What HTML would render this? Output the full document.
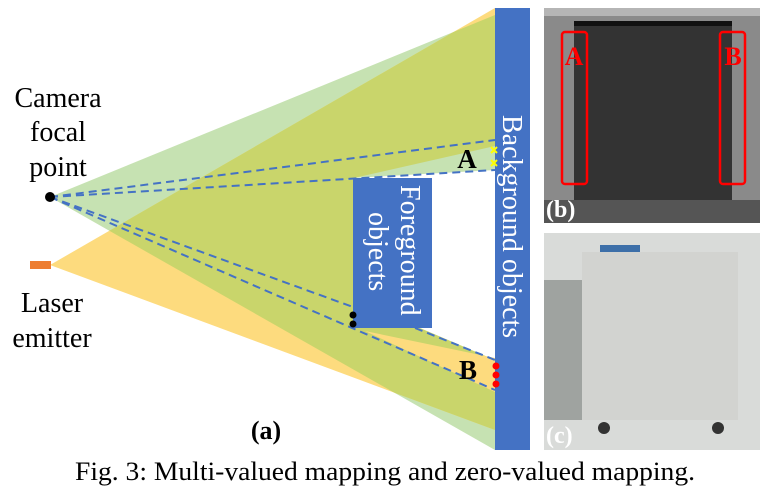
<!DOCTYPE html>
<html><head><meta charset="utf-8"><style>
html,body{margin:0;padding:0;background:#fff;}
svg{display:block;font-family:"Liberation Serif",serif;}
</style></head><body>
<svg width="771" height="493" viewBox="0 0 771 493">
<defs>
<clipPath id="gc"><polygon points="50,197 495,15 495,450"/></clipPath>
</defs>
<g>
<polygon points="50,197 495,15 495,450" fill="#c6e2b2"/>
<polygon points="50,265 495,8 495,430" fill="#fddb7e"/>
<polygon points="50,265 495,8 495,430" fill="#c9d56b" clip-path="url(#gc)"/>
<polygon points="345,180 495,146 495,170" fill="#c6e2b2"/>
<polygon points="353,178 495,170 495,360 420,328 353,328" fill="#fff"/>
<polygon points="365,331 495,358 495,392" fill="#fddb7e"/>
<rect x="353" y="178" width="79" height="150" fill="#4472c4"/>
<text transform="translate(393,185) rotate(90)" fill="#fff" font-size="28"><tspan x="0" y="-8">Foreground</tspan><tspan x="27" y="24">objects</tspan></text>
<g stroke="#4472c4" stroke-width="2" stroke-dasharray="8,5" fill="none">
<line x1="50" y1="197" x2="495" y2="140"/>
<line x1="50" y1="197" x2="495" y2="170"/>
<line x1="50" y1="197" x2="353" y2="307"/>
<line x1="50" y1="197" x2="495" y2="390"/>
<line x1="415" y1="328" x2="495" y2="360"/>
</g>
<rect x="495" y="8" width="35" height="442" fill="#4472c4"/>
<text transform="translate(503,115) rotate(90)" fill="#fff" font-size="28">Background objects</text>
<circle cx="50" cy="197" r="5" fill="#000"/>
<rect x="30" y="261" width="21" height="8" fill="#ed7d31"/>
<g font-size="28" text-anchor="middle">
<text x="58" y="107">Camera</text><text x="58" y="141">focal</text><text x="58" y="176">point</text>
<text x="52" y="312">Laser</text><text x="52" y="347">emitter</text>
</g>
<text x="467" y="168" font-size="27" font-weight="bold" text-anchor="middle">A</text>
<text x="468" y="379" font-size="27" font-weight="bold" text-anchor="middle">B</text>
<g stroke="#ffff00" stroke-width="2">
<path d="M491,147 l6,6 M497,147 l-6,6 M491,160 l6,6 M497,160 l-6,6"/>
</g>
<g fill="#ff0000"><circle cx="496" cy="366" r="3.5"/><circle cx="496" cy="375" r="3.5"/><circle cx="496" cy="384" r="3.5"/></g>
<g fill="#000"><circle cx="353" cy="315" r="3.5"/><circle cx="353" cy="324" r="3.5"/></g>
<text x="266" y="439" font-size="26" font-weight="bold" text-anchor="middle">(a)</text>
</g>
<g>
<rect x="544" y="8" width="216" height="215" fill="#8a8a8a"/>
<rect x="544" y="8" width="216" height="8" fill="#b5b5b5"/>
<rect x="574" y="21" width="158" height="190" fill="#333"/>
<rect x="574" y="21" width="158" height="5" fill="#111"/>
<rect x="544" y="200" width="216" height="23" fill="#555"/>
<rect x="562" y="32" width="25" height="152" rx="3" fill="none" stroke="#ff0000" stroke-width="2.5"/>
<rect x="720" y="32" width="25" height="152" rx="3" fill="none" stroke="#ff0000" stroke-width="2.5"/>
<text x="574" y="65" font-size="26" font-weight="bold" fill="#ff0000" text-anchor="middle">A</text>
<text x="733" y="65" font-size="26" font-weight="bold" fill="#ff0000" text-anchor="middle">B</text>
<text x="546" y="217" font-size="24" font-weight="bold" fill="#fff">(b)</text>
</g>
<g>
<rect x="544" y="233" width="216" height="217" fill="#d9dbd9"/>
<rect x="544" y="280" width="40" height="140" fill="#9fa3a0"/>
<rect x="600" y="245" width="40" height="10" fill="#3d6fa8"/>
<rect x="582" y="252" width="156" height="168" fill="#d2d3d0"/>
<circle cx="604" cy="428" r="6" fill="#333"/><circle cx="718" cy="428" r="6" fill="#333"/>
<text x="546" y="443" font-size="24" font-weight="bold" fill="#fff">(c)</text>
</g>
<text x="75" y="480" font-size="26" textLength="620" lengthAdjust="spacingAndGlyphs">Fig. 3: Multi-valued mapping and zero-valued mapping.</text>
</svg>
</body></html>
